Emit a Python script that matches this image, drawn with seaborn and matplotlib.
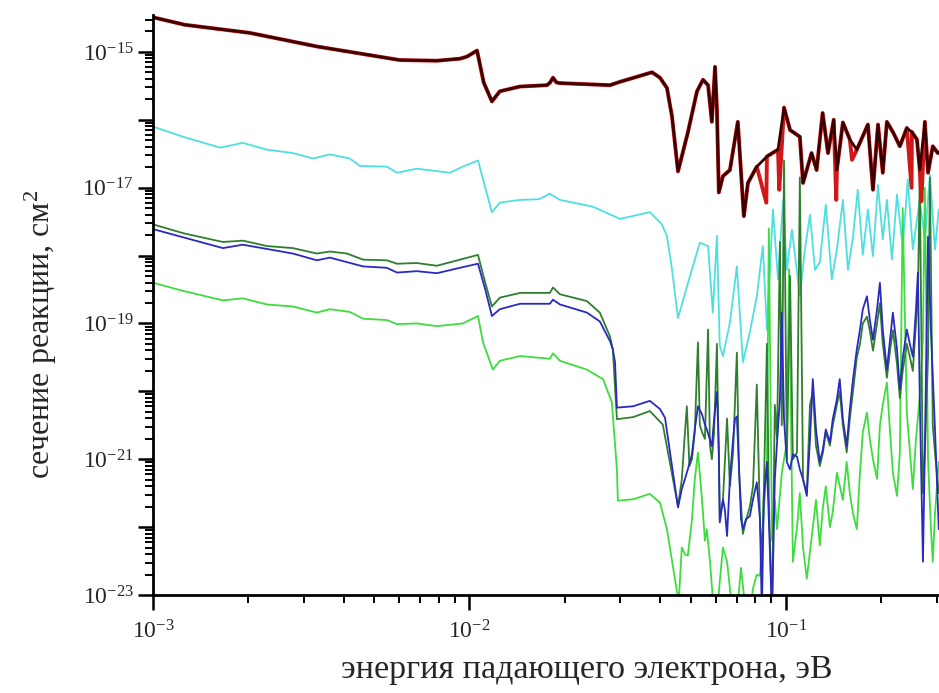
import numpy as np
import pandas as pd
import seaborn as sns
import matplotlib.pyplot as plt
from matplotlib.ticker import FixedLocator, FuncFormatter, NullFormatter

# log10 of energy (eV) and log10 of cross-section (cm^2)
lg_e_top = [-3.00, -2.90, -2.694, -2.482, -2.22, -2.103, -2.03, -2.008, -1.976, -1.955, -1.929, -1.904,
            -1.84, -1.755, -1.745, -1.736, -1.725, -1.714, -1.556, -1.524, -1.423, -1.398, -1.376, -1.36,
            -1.341, -1.31, -1.281, -1.262, -1.246, -1.234, -1.224, -1.218, -1.212, -1.199, -1.177, -1.152,
            -1.133, -1.12, -1.092, -1.060, -1.025, -1.006, -0.987, -0.956, -0.946, -0.919, -0.903, -0.884,
            -0.867, -0.849, -0.839, -0.82, -0.798, -0.776, -0.757, -0.741, -0.725, -0.709, -0.694, -0.681,
            -0.662, -0.640, -0.618, -0.602, -0.586, -0.577, -0.561, -0.551, -0.536, -0.52, -0.50]
lg_s_top = [-14.49, -14.60, -14.72, -14.92, -15.12, -15.13, -15.10, -15.07, -14.98, -15.45, -15.73, -15.58,
            -15.51, -15.49, -15.45, -15.38, -15.45, -15.46, -15.49, -15.44, -15.30, -15.38, -15.53, -15.95,
            -16.76, -16.19, -15.58, -15.41, -15.49, -16.03, -15.22, -15.85, -17.07, -16.83, -16.74, -16.03,
            -17.42, -16.93, -16.69, -16.54, -16.44, -15.82, -16.15, -16.25, -16.93, -16.49, -16.74, -15.90,
            -16.49, -16.00, -16.74, -16.04, -16.29, -16.44, -16.24, -16.07, -17.03, -16.07, -16.78, -16.03,
            -16.18, -16.39, -16.12, -16.18, -16.29, -16.74, -16.03, -16.78, -16.39, -16.49, -16.45]

# spots where the red curve dips below the black one
lg_e_red_dips = [-1.062, -1.021, -0.841, -0.791, -0.603, -0.572]
lg_s_red_dips = [-17.22, -17.03, -17.18, -16.59, -17.00, -17.20]

lg_e_cyan = [-3.00, -2.905, -2.788, -2.716, -2.640, -2.558, -2.494, -2.441, -2.378, -2.346, -2.261, -2.229,
             -2.166, -2.062, -2.021, -1.973, -1.950, -1.929, -1.904, -1.840, -1.780, -1.746, -1.714, -1.610,
             -1.524, -1.430, -1.392, -1.376, -1.360, -1.341, -1.303, -1.272, -1.246, -1.231, -1.218, -1.209,
             -1.199, -1.177, -1.155, -1.136, -1.114, -1.092, -1.073, -1.060, -1.041, -1.025, -1.009, -0.997,
             -0.981, -0.956, -0.940, -0.924, -0.908, -0.893, -0.874, -0.855, -0.839, -0.820, -0.804, -0.788,
             -0.773, -0.757, -0.741, -0.725, -0.709, -0.694, -0.681, -0.665, -0.649, -0.631, -0.615, -0.599,
             -0.577, -0.561, -0.545, -0.529, -0.517]
lg_s_cyan = [-16.10, -16.25, -16.41, -16.34, -16.44, -16.49, -16.57, -16.51, -16.57, -16.68, -16.69, -16.78,
             -16.72, -16.78, -16.69, -16.60, -17.00, -17.36, -17.22, -17.18, -17.17, -17.09, -17.18, -17.28,
             -17.46, -17.36, -17.54, -17.71, -18.20, -18.92, -18.30, -17.81, -17.86, -18.84, -17.71, -19.33,
             -19.48, -18.99, -18.16, -19.57, -19.13, -18.60, -17.86, -19.09, -17.32, -18.35, -17.18, -18.21,
             -17.62, -18.59, -17.91, -17.40, -18.21, -18.10, -17.25, -18.35, -17.91, -17.18, -18.21, -17.72,
             -17.03, -17.99, -17.32, -18.01, -16.96, -17.76, -17.18, -18.06, -17.10, -17.87, -16.88, -17.91,
             -17.18, -17.76, -16.81, -17.91, -17.32]

lg_e_dkgreen = [-3.00, -2.905, -2.779, -2.716, -2.640, -2.558, -2.482, -2.441, -2.387, -2.336, -2.261, -2.229,
                -2.166, -2.103, -2.030, -1.973, -1.950, -1.929, -1.904, -1.840, -1.746, -1.736, -1.714, -1.629,
                -1.588, -1.556, -1.547, -1.534, -1.483, -1.430, -1.389,
                -1.341, -1.329, -1.319, -1.313, -1.305, -1.297, -1.288, -1.278, -1.272, -1.265, -1.256, -1.246,
                -1.240, -1.234, -1.227, -1.218, -1.212, -1.209, -1.199, -1.186, -1.177, -1.167, -1.155, -1.148,
                -1.136, -1.126, -1.114, -1.104, -1.092, -1.082, -1.076, -1.070, -1.060, -1.054, -1.044, -1.035,
                -1.028, -1.019, -1.013, -1.006, -0.997, -0.987, -0.978, -0.965, -0.956, -0.946, -0.934, -0.924,
                -0.915, -0.905, -0.893, -0.883, -0.874, -0.861, -0.852, -0.839, -0.830, -0.820, -0.808, -0.798,
                -0.788, -0.776, -0.766, -0.757, -0.744, -0.735, -0.725, -0.712, -0.703, -0.694, -0.681, -0.671,
                -0.662, -0.649, -0.640, -0.631, -0.618, -0.608, -0.599, -0.589, -0.583, -0.577, -0.567, -0.561,
                -0.551, -0.545, -0.536, -0.529, -0.517]
lg_s_dkgreen = [-17.54, -17.67, -17.80, -17.78, -17.86, -17.89, -17.97, -17.94, -17.97, -18.06, -18.07, -18.12,
                -18.11, -18.15, -18.06, -17.99, -18.40, -18.75, -18.62, -18.55, -18.55, -18.47, -18.57, -18.67,
                -18.84, -19.19, -19.38, -20.41, -20.38, -20.29, -20.49,
                -21.69, -21.3, -20.6, -20.22, -21.1, -21.0, -20.6, -19.28, -20.5, -20.6, -20.7, -19.09,
                -20.8, -21.0, -20.6, -19.3, -21.0, -21.9, -21.6, -20.4, -21.4, -20.9, -19.43, -21.2,
                -22.1, -21.9, -21.7, -21.4, -19.9, -21.9, -22.5, -21.5, -19.3, -21.6, -23.3, -20.2,
                -20.7, -17.8, -20.5, -16.6, -21.0, -18.3, -21.0, -20.9, -16.85, -21.3, -21.5, -20.2,
                -20.0, -20.8, -21.1, -20.9, -20.6, -20.8, -20.5, -20.2, -20.0, -20.5, -20.9, -20.4,
                -20.0, -19.5, -19.3, -19.0, -18.9, -19.1, -19.4, -19.0, -18.7, -19.3, -19.8, -19.4,
                -19.1, -19.6, -20.1, -19.7, -19.3, -19.5, -19.7, -19.0, -18.6, -16.85, -21.5, -20.9,
                -19.5, -16.85, -20.5, -20.9, -21.5]

lg_e_blue = [-3.00, -2.779, -2.716, -2.558, -2.482, -2.441, -2.336, -2.261, -2.229, -2.166, -2.103, -2.030,
             -1.973, -1.950, -1.929, -1.904, -1.840, -1.746, -1.736, -1.714, -1.629, -1.588, -1.556, -1.547,
             -1.540, -1.534, -1.483, -1.430, -1.398, -1.382,
             -1.341, -1.329, -1.319, -1.310, -1.297, -1.288, -1.278, -1.265, -1.256, -1.250, -1.240, -1.234,
             -1.227, -1.218, -1.212, -1.209, -1.199, -1.193, -1.186, -1.177, -1.167, -1.161, -1.155, -1.148,
             -1.142, -1.136, -1.126, -1.114, -1.104, -1.092, -1.082, -1.076, -1.070, -1.060, -1.054, -1.044,
             -1.035, -1.028, -1.019, -1.013, -1.006, -0.997, -0.987, -0.978, -0.965, -0.956, -0.946, -0.934,
             -0.924, -0.915, -0.905, -0.893, -0.883, -0.874, -0.861, -0.852, -0.839, -0.830, -0.820, -0.808,
             -0.798, -0.788, -0.776, -0.766, -0.757, -0.744, -0.735, -0.725, -0.712, -0.703, -0.694, -0.681,
             -0.671, -0.662, -0.649, -0.640, -0.631, -0.618, -0.608, -0.599, -0.589, -0.583, -0.577, -0.567,
             -0.561, -0.551, -0.542, -0.529, -0.517]
lg_s_blue = [-17.61, -17.89, -17.84, -17.97, -18.07, -18.03, -18.16, -18.18, -18.25, -18.23, -18.26, -18.18,
             -18.12, -18.50, -18.89, -18.79, -18.71, -18.71, -18.65, -18.72, -18.84, -18.97, -19.26, -19.38,
             -19.57, -20.24, -20.22, -20.14, -20.26, -20.39,
             -21.71, -21.44, -21.29, -21.15, -20.93, -20.56, -20.22, -20.34, -20.49, -20.56, -20.71, -20.81,
             -20.41, -20.01, -20.85, -21.93, -21.59, -21.74, -22.13, -21.29, -20.71, -20.41, -20.37, -21.15,
             -21.88, -22.03, -21.88, -21.84, -21.59, -21.34, -21.88, -23.3, -21.59, -21.04, -21.88, -23.3,
             -21.29, -20.75, -20.12, -18.84, -20.41, -21.04, -21.15, -20.93, -20.96, -21.15, -21.29, -21.54,
             -20.71, -19.82, -20.56, -21.04, -20.85, -20.56, -20.75, -20.41, -20.12, -19.82, -20.41, -20.81,
             -20.26, -19.82, -19.38, -19.09, -18.79, -18.60, -18.94, -19.24, -18.79, -18.40, -19.09, -19.68,
             -19.24, -18.84, -19.38, -19.97, -19.52, -19.09, -19.31, -19.49, -18.79, -18.25, -20.12, -22.51,
             -20.85, -17.72, -19.09, -20.56, -22.03]

lg_e_ltgreen = [-3.00, -2.905, -2.779, -2.716, -2.640, -2.558, -2.482, -2.441, -2.378, -2.336, -2.261, -2.229,
                -2.166, -2.103, -2.021, -1.973, -1.957, -1.926, -1.904, -1.840, -1.746, -1.736, -1.714, -1.629,
                -1.578, -1.550, -1.534, -1.531, -1.483, -1.430, -1.398, -1.376,
                -1.344, -1.338, -1.329, -1.319, -1.310, -1.297, -1.288, -1.278, -1.265, -1.256, -1.250, -1.240,
                -1.227, -1.218, -1.209, -1.199, -1.186, -1.177, -1.167, -1.155, -1.142, -1.126, -1.114, -1.104,
                -1.092, -1.082, -1.070, -1.060, -1.054, -1.044, -1.035, -1.028, -1.013, -0.997, -0.990, -0.978,
                -0.965, -0.956, -0.946, -0.934, -0.915, -0.905, -0.893, -0.883, -0.874, -0.861, -0.852, -0.839,
                -0.820, -0.808, -0.798, -0.788, -0.776, -0.766, -0.757, -0.744, -0.735, -0.725, -0.712, -0.703,
                -0.694, -0.681, -0.671, -0.662, -0.649, -0.640, -0.631, -0.618, -0.608, -0.599, -0.589, -0.577,
                -0.567, -0.561, -0.551, -0.542, -0.536, -0.529, -0.517]
lg_s_ltgreen = [-18.40, -18.52, -18.66, -18.63, -18.72, -18.75, -18.84, -18.79, -18.83, -18.93, -18.95, -19.01,
                -19.00, -19.04, -19.00, -18.89, -19.28, -19.68, -19.55, -19.48, -19.52, -19.44, -19.55, -19.68,
                -19.82, -20.16, -21.15, -21.61, -21.59, -21.51, -21.64, -22.03,
                -22.96, -23.05, -22.3, -22.4, -22.42, -21.9, -21.3, -20.9, -21.6, -22.2, -22.03, -22.5,
                -23.3, -23.3, -22.8, -22.3, -22.51, -22.9, -23.3, -23.3, -22.6, -23.3, -23.3, -22.9,
                -22.7, -22.72, -21.8, -21.04, -17.6, -22.2, -21.6, -22.03, -21.2, -20.75, -18.2, -22.51,
                -22.0, -21.5, -22.3, -22.76, -22.0, -21.6, -22.27, -21.7, -21.4, -22.0, -21.78, -21.2,
                -21.6, -21.04, -21.5, -21.8, -22.03, -21.2, -20.6, -20.31, -20.7, -21.0, -21.29, -20.5,
                -20.2, -19.87, -20.6, -21.2, -21.54, -20.9, -17.3, -20.31, -20.9, -21.44, -20.7, -20.07,
                -19.2, -17.0, -21.0, -22.0, -22.51, -21.8, -21.04]


def frame(lg_e, lg_s):
    return pd.DataFrame({'energy': 10.0 ** np.array(lg_e), 'sigma': 10.0 ** np.array(lg_s)})


sns.set_style('ticks')
plt.rcParams['font.family'] = ['Liberation Serif', 'DejaVu Serif']
plt.rcParams['mathtext.fontset'] = 'custom'
plt.rcParams['mathtext.rm'] = 'Liberation Serif'
plt.rcParams['mathtext.it'] = 'Liberation Serif:italic'

fig = plt.figure(figsize=(9.39, 6.93), dpi=100)
# axes run on past the right edge of the figure, as in the original
ax = fig.add_axes([0.1629, 0.1414, 0.9244, 0.837])
ax.set_xscale('log')
ax.set_yscale('log')

red = frame(lg_e_top + lg_e_red_dips, lg_s_top + lg_s_red_dips).sort_values('energy')

series = [
    (frame(lg_e_cyan, lg_s_cyan), '#4fdfe0', 1.3),
    (frame(lg_e_ltgreen, lg_s_ltgreen), '#3fdc3f', 1.3),
    (frame(lg_e_dkgreen, lg_s_dkgreen), '#2f7f2f', 1.3),
    (frame(lg_e_blue, lg_s_blue), '#2a2ac0', 1.3),
    (red, '#d01818', 2.8),
    (frame(lg_e_top, lg_s_top), '#380000', 2.0),
]
for df, color, lw in series:
    sns.lineplot(data=df, x='energy', y='sigma', ax=ax, color=color, lw=lw,
                 estimator=None, sort=True, legend=False)

ax.set_xlim(1e-3, 0.553)
ax.set_ylim(1e-23, 3.5e-15)

x_decades = [-3, -2, -1]
y_decades = list(range(-23, -14))
ax.xaxis.set_major_locator(FixedLocator([10.0 ** k for k in x_decades]))
ax.xaxis.set_minor_locator(FixedLocator([m * 10.0 ** k for k in x_decades for m in range(2, 10)]))
ax.xaxis.set_major_formatter(FuncFormatter(lambda v, p: r'$\mathregular{10^{%d}}$' % round(np.log10(v))))
ax.xaxis.set_minor_formatter(NullFormatter())

ax.yaxis.set_major_locator(FixedLocator([10.0 ** k for k in y_decades]))
ax.yaxis.set_minor_locator(FixedLocator([m * 10.0 ** k for k in y_decades[:-1] for m in range(2, 10)]
                                        + [m * 1e-15 for m in (2, 3)]))


def y_label(v, p):
    k = int(round(np.log10(v)))
    return r'$\mathregular{10^{%d}}$' % k if k % 2 else ''


ax.yaxis.set_major_formatter(FuncFormatter(y_label))
ax.yaxis.set_minor_formatter(NullFormatter())

ax.tick_params(which='major', direction='out', length=11, width=1.8, labelsize=17, color='black')
ax.tick_params(which='minor', direction='out', length=6, width=1.4, color='black')
ax.tick_params(axis='x', which='major', pad=7)
ax.tick_params(axis='y', which='major', pad=3)

for side in ['top', 'right']:
    ax.spines[side].set_visible(False)
for side in ['left', 'bottom']:
    ax.spines[side].set_linewidth(2)
    ax.spines[side].set_color('black')

ax.set_xlabel('энергия падающего электрона, эВ', fontsize=24.5)
ax.set_ylabel('сечение реакции, см$^2$', fontsize=23)
ax.xaxis.set_label_coords(0.5, -0.103)
ax.yaxis.set_label_coords(-0.108, 0.45)

fig.savefig('out.png', dpi=100)
